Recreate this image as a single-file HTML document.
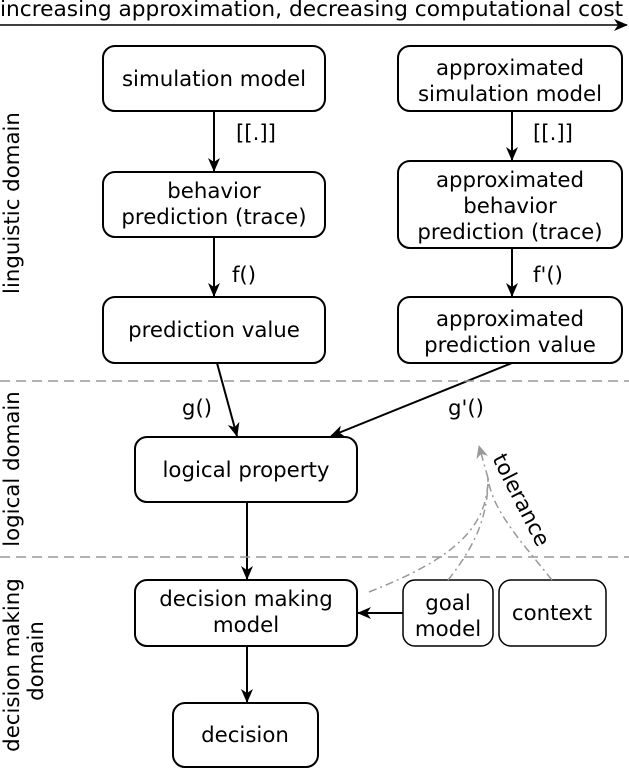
<!DOCTYPE html>
<html><head><meta charset="utf-8"><style>
html,body{margin:0;padding:0;background:#fff;}
svg{display:block;}
text{font-family:"DejaVu Sans","Liberation Sans",sans-serif;font-size:21.3px;fill:#000;}
</style></head><body>
<svg width="629" height="769" viewBox="0 0 629 769" xmlns="http://www.w3.org/2000/svg">
<defs>
<marker id="a" markerWidth="14" markerHeight="14" refX="13" refY="7" orient="auto" markerUnits="userSpaceOnUse">
<path d="M0,1 L14,7 L0,13 L4,7 z" fill="#000"/></marker>
<marker id="g" markerWidth="14" markerHeight="14" refX="12" refY="7" orient="auto" markerUnits="userSpaceOnUse">
<path d="M0,1 L13,7 L0,13 L4,7 z" fill="#999"/></marker>
</defs>
<text x="0" y="16" style="font-size:21.7px">increasing approximation, decreasing computational cost</text>
<line x1="0" y1="25" x2="627" y2="25" stroke="#000" stroke-width="1.5" marker-end="url(#a)"/>
<g fill="none" stroke="#000" stroke-width="2">
<rect x="103" y="46" width="222" height="65" rx="12"/>
<rect x="398" y="46" width="224" height="65" rx="12"/>
<rect x="103" y="172" width="222" height="65" rx="12"/>
<rect x="398" y="161" width="224" height="87" rx="12"/>
<rect x="103" y="297" width="222" height="66" rx="12"/>
<rect x="398" y="297" width="224" height="66" rx="12"/>
<rect x="135" y="437" width="222" height="65" rx="12"/>
<rect x="135" y="580" width="222" height="66" rx="12"/>
<rect x="173" y="703" width="145" height="64" rx="12"/>
</g>
<g fill="none" stroke="#000" stroke-width="1.5">
<rect x="403" y="580" width="90" height="66" rx="12"/>
<rect x="499" y="580" width="107" height="66" rx="12"/>
</g>
<g stroke="#000" stroke-width="2" marker-end="url(#a)">
<line x1="214" y1="111" x2="214" y2="171"/>
<line x1="214" y1="237" x2="214" y2="296"/>
<line x1="512" y1="111" x2="512" y2="160"/>
<line x1="512" y1="248" x2="512" y2="296"/>
<line x1="217" y1="363" x2="237" y2="436"/>
<line x1="512" y1="363" x2="331" y2="436"/>
<line x1="247" y1="502" x2="247" y2="579"/>
<line x1="403" y1="613" x2="358" y2="613"/>
<line x1="247" y1="646" x2="247" y2="702"/>
</g>
<g stroke="#999" stroke-width="1.5" stroke-dasharray="10,6">
<line x1="0" y1="381" x2="629" y2="381"/>
<line x1="0" y1="557" x2="629" y2="557"/>
</g>
<g fill="none" stroke="#999" stroke-width="1.5" stroke-dasharray="8,4,2,4">
<path d="M369,592 C450,560 488,530 488,478"/>
<path d="M448,580 C480,540 488,510 488,478"/>
<path d="M552,580 C520,540 492,510 488,478"/>
<path d="M488,478 L479,446" marker-end="url(#g)"/>
</g>
<g text-anchor="middle">
<text x="214" y="86">simulation model</text>
<text x="510" y="75">approximated</text>
<text x="510" y="101">simulation model</text>
<text x="214" y="198">behavior</text>
<text x="214" y="224">prediction (trace)</text>
<text x="510" y="187">approximated</text>
<text x="510" y="213">behavior</text>
<text x="510" y="239">prediction (trace)</text>
<text x="214" y="337">prediction value</text>
<text x="510" y="326">approximated</text>
<text x="510" y="352">prediction value</text>
<text x="246" y="477">logical property</text>
<text x="246" y="606">decision making</text>
<text x="246" y="632">model</text>
<text x="245" y="742">decision</text>
<text x="448" y="610">goal</text>
<text x="448" y="636">model</text>
<text x="552" y="620">context</text>
<text x="256" y="140">[[.]]</text>
<text x="553" y="140">[[.]]</text>
<text x="244" y="282">f()</text>
<text x="548" y="282">f'()</text>
<text x="197" y="415">g()</text>
<text x="466" y="415">g'()</text>
<text transform="translate(521,500) rotate(63)" y="7">tolerance</text>
<text transform="translate(12,203) rotate(-90)" y="7">linguistic domain</text>
<text transform="translate(12,469) rotate(-90)" y="7">logical domain</text>
<text transform="translate(12,665) rotate(-90)" y="7">decision making</text>
<text transform="translate(36,661) rotate(-90)" y="7">domain</text>
</g>
</svg>
</body></html>
